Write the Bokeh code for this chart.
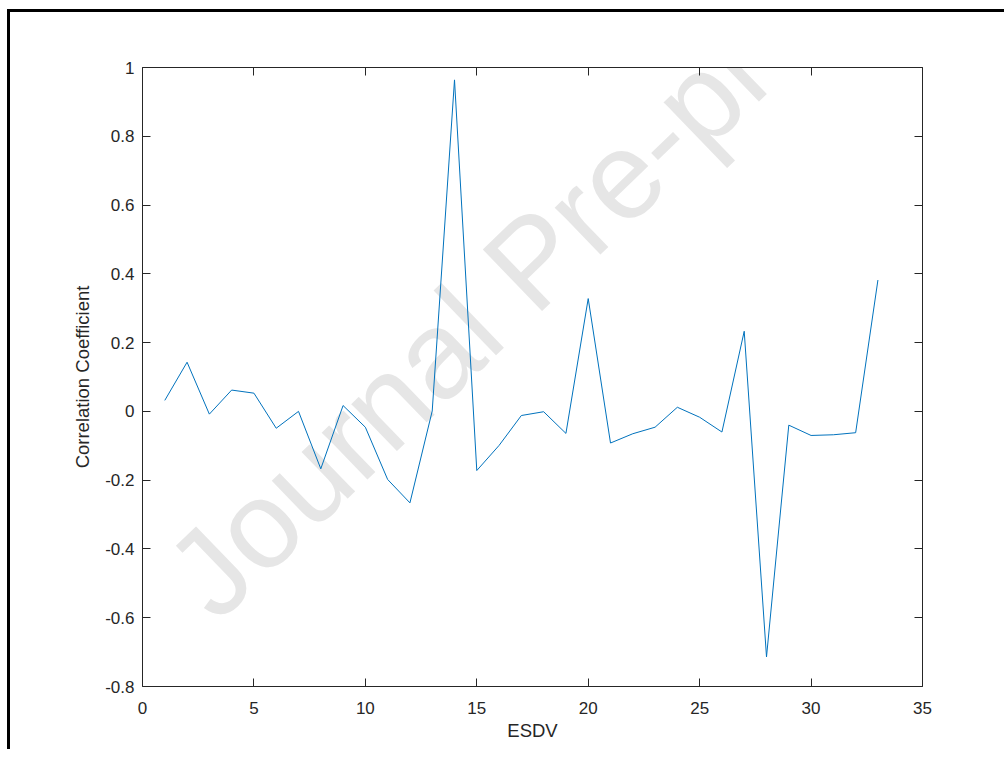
import math
from bokeh.plotting import figure
from bokeh.models import Range1d, LinearAxis, FixedTicker, CustomJSTickFormatter, Label
from bokeh.embed import file_html
from bokeh.resources import INLINE

# ---- data ----
esdv = list(range(1, 34))
corr = [0.032, 0.143, -0.008, 0.062, 0.053, -0.049, 0.000, -0.167, 0.017, -0.046,
        -0.198, -0.266, 0.001, 0.964, -0.172, -0.099, -0.012, -0.001, -0.064, 0.328,
        -0.092, -0.065, -0.046, 0.012, -0.017, -0.060, 0.233, -0.714, -0.040, -0.070,
        -0.068, -0.062, 0.382]
x_ticks = [0, 5, 10, 15, 20, 25, 30, 35]
y_ticks = [-0.8, -0.6, -0.4, -0.2, 0.0, 0.2, 0.4, 0.6, 0.8, 1.0]
x_label = "ESDV"
y_label = "Correlation Coefficient"
watermark = "Journal Pre-proof"

AX = "#262626"
FONT = "Liberation Sans"

p = figure(width=997, height=740, output_backend="svg", toolbar_location=None,
           x_range=Range1d(0, 35), y_range=Range1d(-0.8, 1.0),
           min_border_left=132, min_border_top=55, min_border_right=85, min_border_bottom=66,
           x_axis_location=None, y_axis_location=None)
p.styles = {"border-top": "3px solid #000000", "border-left": "3px solid #000000",
            "margin-left": "7px", "margin-top": "9px"}
p.xgrid.visible = False
p.ygrid.visible = False
p.outline_line_color = None
p.background_fill_color = "white"
p.border_fill_color = "white"

yfmt = CustomJSTickFormatter(code="""
var s = (Math.abs(tick) < 1e-9) ? '0' : tick.toFixed(1);
if (s.endsWith('.0')) { s = s.slice(0, -2); }
return s;
""")

def style_axis(ax, show_labels):
    ax.axis_line_color = AX
    ax.axis_line_width = 1
    ax.major_tick_line_color = AX
    ax.major_tick_in = 8
    ax.major_tick_out = 0
    ax.minor_tick_line_color = None
    ax.major_label_text_font = FONT
    ax.major_label_text_font_size = "17px"
    ax.major_label_text_color = AX if show_labels else None
    ax.axis_label_text_font = FONT
    ax.axis_label_text_font_size = "18.5px"
    ax.axis_label_text_font_style = "normal"
    ax.axis_label_text_color = AX

xb = LinearAxis(ticker=FixedTicker(ticks=x_ticks), axis_label=x_label)
style_axis(xb, True)
xb.major_label_standoff = 15
xb.axis_label_standoff = 3
p.add_layout(xb, "below")

xt = LinearAxis(ticker=FixedTicker(ticks=x_ticks))
style_axis(xt, False)
xt.major_label_text_font_size = "0px"
p.add_layout(xt, "above")

yl = LinearAxis(ticker=FixedTicker(ticks=y_ticks), formatter=yfmt, axis_label=y_label)
style_axis(yl, True)
yl.major_label_standoff = 8
yl.axis_label_standoff = 9
p.add_layout(yl, "left")

yr = LinearAxis(ticker=FixedTicker(ticks=y_ticks))
style_axis(yr, False)
yr.major_label_text_font_size = "0px"
p.add_layout(yr, "right")

# page watermark (not data) placed in canvas pixels
wm = Label(x=174, y=578, x_units="canvas", y_units="canvas", text=watermark,
           angle=math.radians(44),
           text_font=FONT, text_font_size="124px", text_color="#e6e6e6",
           text_align="left", text_baseline="alphabetic", level="underlay")
p.add_layout(wm)

p.line(esdv, corr, line_color="#0072BD", line_width=1)

open("out.html", "w").write(file_html(p, INLINE))
